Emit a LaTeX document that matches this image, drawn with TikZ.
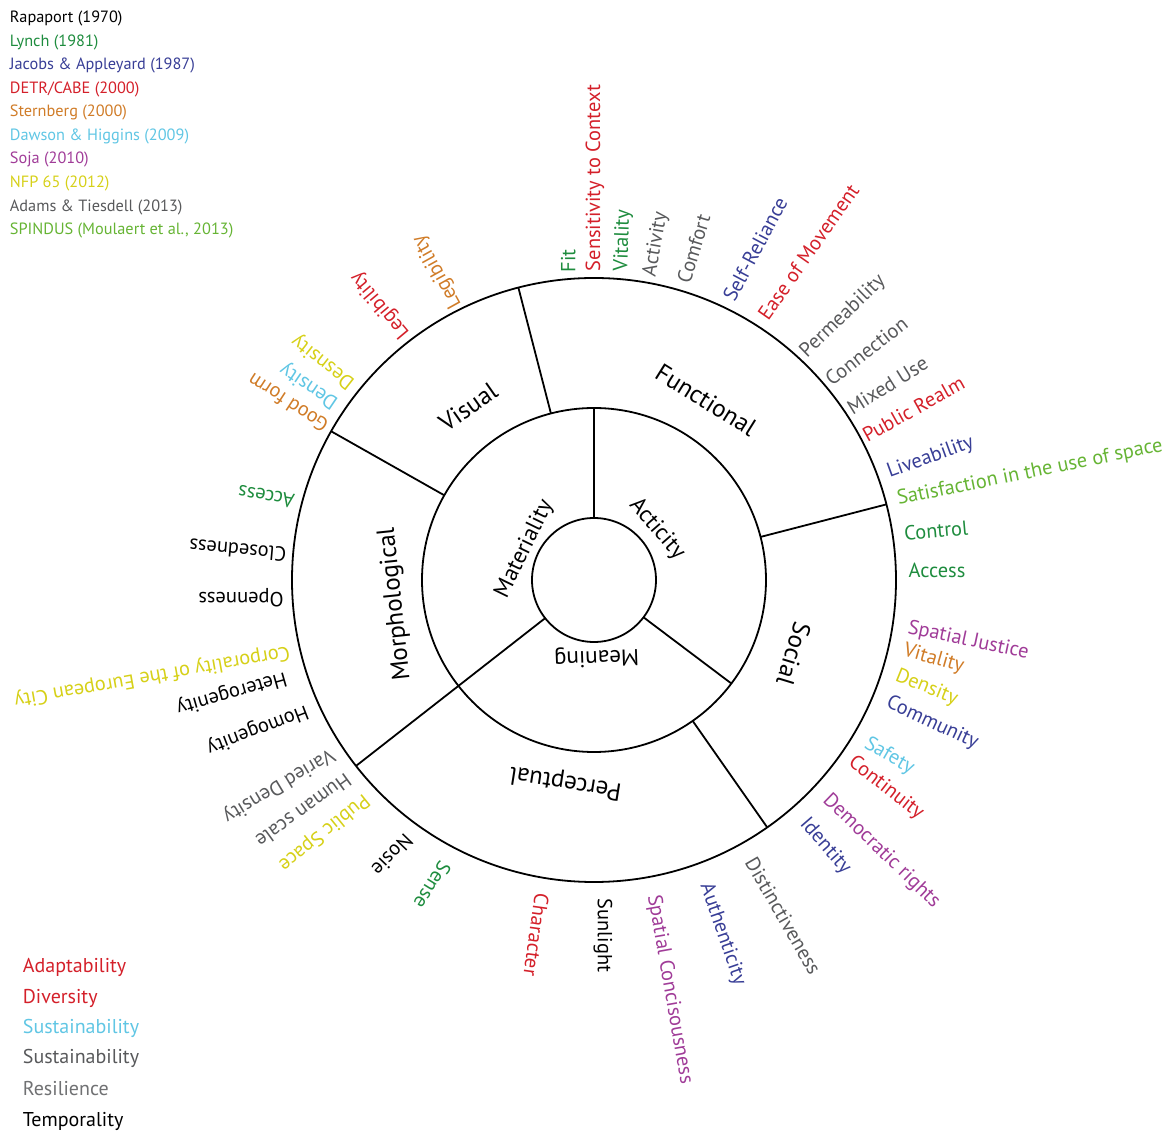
\documentclass[tikz,border=0pt]{standalone}
\usepackage{fontspec}
\setmainfont{PT Sans}
\definecolor{lynch}{RGB}{30,140,62}
\definecolor{jacobs}{RGB}{56,62,150}
\definecolor{detr}{RGB}{212,32,42}
\definecolor{sternberg}{RGB}{208,124,40}
\definecolor{dawson}{RGB}{96,198,228}
\definecolor{soja}{RGB}{160,60,152}
\definecolor{nfp}{RGB}{214,208,24}
\definecolor{adams}{RGB}{88,89,91}
\definecolor{spindus}{RGB}{102,180,52}
\definecolor{resil}{RGB}{112,113,115}
\begin{document}
\begin{tikzpicture}[x=1pt,y=1pt,line width=1.8pt,
  lbl/.style={anchor=west,inner sep=0pt,font=\fontsize{20.4}{22}\selectfont},
  ring/.style={inner sep=0pt,font=\fontsize{25}{27}\selectfont},
  core/.style={inner sep=0pt,font=\fontsize{23}{25}\selectfont},
  src/.style={anchor=base west,inner sep=0pt,font=\fontsize{16.3}{18}\selectfont},
  value/.style={anchor=base west,inner sep=0pt,font=\fontsize{20}{22}\selectfont}]
 \useasboundingbox (-594,-551) rectangle (580,580);
 % wheel
 \draw (0,0) circle (62);
 \draw (0,0) circle (172);
 \draw (0,0) circle (302);
 \draw (90:62) -- (90:172);
 \draw (323:62) -- (323:172);
 \draw (218:62) -- (218:302);
 \draw (104.5:172) -- (104.5:302);
 \draw (150.5:172) -- (150.5:302);
 \draw (305:172) -- (305:302);
 \draw (14.5:172) -- (14.5:302);
 % inner ring
 \node[core,rotate=64] (mater) at (156:76) {Materiality};
 \node[core,rotate=-49] (actic) at (39:81) {Acticity};
 \node[core,rotate=182] (mean) at (272:77) {Meaning};
 % middle ring
 \node[ring,rotate=35] (visual) at (126:214) {Visual};
 \node[ring,rotate=-32] (funct) at (58.1:212) {Functional};
 \node[ring,rotate=-107] (social) at (-20.3:213) {Social};
 \node[ring,rotate=171] (percep) at (262:204) {Perceptual};
 \node[ring,rotate=96] (morph) at (186.9:200) {Morphological};
 % qualities round the rim
 \node[lbl,text=lynch,rotate=90] (fit) at (94.8:308) {Fit};
 \node[lbl,text=detr,rotate=90] (sens) at (89.8:308) {Sensitivity to Context};
 \node[lbl,text=lynch,rotate=88] (vit1) at (84.8:309) {Vitality};
 \node[lbl,text=adams,rotate=80] (act) at (79.5:308) {Activity};
 \node[lbl,text=adams,rotate=73] (comf) at (73.3:310) {Comfort};
 \node[lbl,text=jacobs,rotate=62] (selfr) at (64.4:310) {Self-Reliance};
 \node[lbl,text=detr,rotate=55] (ease) at (57.3:311) {Ease of Movement};
 \node[lbl,text=adams,rotate=44] (perm) at (47.1:307) {Permeability};
 \node[lbl,text=adams,rotate=38] (conn) at (40.4:306) {Connection};
 \node[lbl,text=adams,rotate=32] (mixed) at (33.8:306) {Mixed Use};
 \node[lbl,text=detr,rotate=29] (pubr) at (28:305) {Public Realm};
 \node[lbl,text=jacobs,rotate=20] (live) at (20:312) {Liveability};
 \node[lbl,text=spindus,rotate=11.5] (satis) at (14.8:313) {Satisfaction in the use of space};
 \node[lbl,text=lynch,rotate=5] (ctrl) at (8.6:313) {Control};
 \node[lbl,text=lynch,rotate=0] (acc1) at (1.8:314) {Access};
 \node[lbl,text=soja,rotate=-12] (sjust) at (-8.7:317) {Spatial Justice};
 \node[lbl,text=sternberg,rotate=-16] (vit2) at (-12.8:317) {Vitality};
 \node[lbl,text=nfp,rotate=-22] (dens1) at (-17.5:316) {Density};
 \node[lbl,text=jacobs,rotate=-25] (comm) at (-22.6:317) {Community};
 \node[lbl,text=dawson,rotate=-30] (safe) at (-30.9:316) {Safety};
 \node[lbl,text=detr,rotate=-38] (cont) at (-35.1:313) {Continuity};
 \node[lbl,text=soja,rotate=-44] (demo) at (-43.2:317) {Democratic rights};
 \node[lbl,text=jacobs,rotate=-49] (ident) at (-49:318) {Identity};
 \node[lbl,text=adams,rotate=-60] (dist) at (-60.7:319) {Distinctiveness};
 \node[lbl,text=jacobs,rotate=-71] (auth) at (-69.9:323) {Authenticity};
 \node[lbl,text=soja,rotate=-80] (sconc) at (-79.4:320) {Spatial Concisousness};
 \node[lbl,text=black,rotate=-90] (sun) at (-88.4:318) {Sunlight};
 \node[lbl,text=detr,rotate=-98] (chara) at (-99.4:317) {Character};
 \node[lbl,text=lynch,rotate=238] (sense) at (242.5:319) {Sense};
 \node[lbl,text=black,rotate=226] (nosie) at (234.4:316) {Nosie};
 \node[lbl,text=nfp,rotate=219] (pubs) at (223.7:314) {Public Space};
 \node[lbl,text=adams,rotate=216] (human) at (218.9:314) {Human scale};
 \node[lbl,text=adams,rotate=211] (varied) at (213.5:313) {Varied Density};
 \node[lbl,text=black,rotate=201] (homog) at (204.4:314) {Homogenity};
 \node[lbl,text=black,rotate=196] (heter) at (197.5:322) {Heterogenity};
 \node[lbl,text=nfp,rotate=190] (corp) at (193.3:312) {Corporality of the European City};
 \node[lbl,text=black,rotate=180] (open) at (183.3:310) {Openness};
 \node[lbl,text=black,rotate=175] (closed) at (175.3:308) {Closedness};
 \node[lbl,text=lynch,rotate=170] (acc2) at (165.4:309) {Access};
 \node[lbl,text=sternberg,rotate=147] (good) at (150.4:307) {Good form};
 \node[lbl,text=dawson,rotate=146] (dens2) at (145.7:311) {Density};
 \node[lbl,text=nfp,rotate=142] (dens3) at (141:310) {Desnsity};
 \node[lbl,text=detr,rotate=130] (legib1) at (127.6:307) {Legibility};
 \node[lbl,text=sternberg,rotate=119] (legib2) at (116.6:305) {Legibility};
 % sources
 \node[src] (rapa) at (-585,557) {Rapaport (1970)};
 \node[src,text=lynch] (lyn) at (-585,533) {Lynch (1981)};
 \node[src,text=jacobs] (jac) at (-585,510) {Jacobs \& Appleyard (1987)};
 \node[src,text=detr] (cabe) at (-585,486) {DETR/CABE (2000)};
 \node[src,text=sternberg] (stern) at (-585,463) {Sternberg (2000)};
 \node[src,text=dawson] (daw) at (-585,439) {Dawson \& Higgins (2009)};
 \node[src,text=soja] (soj) at (-585,416) {Soja (2010)};
 \node[src,text=nfp] (nfps) at (-585,392) {NFP 65 (2012)};
 \node[src,text=adams] (adt) at (-585,368) {Adams \& Tiesdell (2013)};
 \node[src,text=spindus] (spin) at (-585,345) {SPINDUS (Moulaert et al., 2013)};
 % cross-cutting values
 \node[value,text=detr] (adapt) at (-572,-392) {Adaptability};
 \node[value,text=detr] (diver) at (-572,-423) {Diversity};
 \node[value,text=dawson] (sust1) at (-572,-453) {Sustainability};
 \node[value,text=adams] (sust2) at (-572,-483) {Sustainability};
 \node[value,text=resil] (resi) at (-572,-515) {Resilience};
 \node[value,text=black] (tempo) at (-572,-546) {Temporality};
\end{tikzpicture}
\end{document}
